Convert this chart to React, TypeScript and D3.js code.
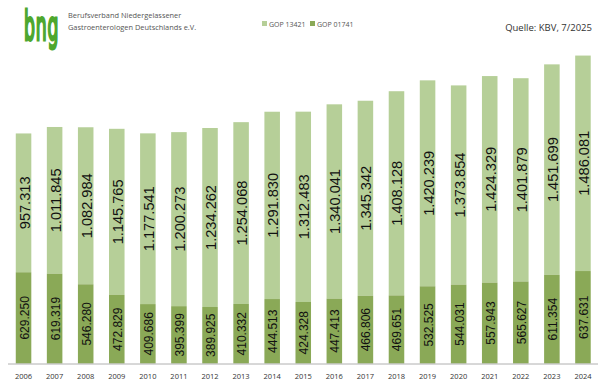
import React from "react";
import * as d3 from "d3";

const years = ["2006","2007","2008","2009","2010","2011","2012","2013","2014","2015","2016","2017","2018","2019","2020","2021","2022","2023","2024"];
const gop01741 = [629250,619319,546280,472829,409686,395399,389925,410332,444513,424328,447413,466806,469651,532525,544031,557943,565627,611354,637631];
const gop13421 = [957313,1011845,1082984,1145765,1177541,1200273,1234262,1254068,1291830,1312483,1340041,1345342,1408128,1420239,1373854,1424329,1401879,1451699,1486081];
const seriesNames = ["GOP 13421", "GOP 01741"];

const W = 605, H = 383;
const LIGHT = "#b6cf98";
const DARK = "#8aa957";
const fmt = (v: number) => d3.format(",")(v).replace(/,/g, ".");

export default function App() {
  const x = d3.scaleBand<string>().domain(years).range([8, 598.5]).paddingInner(0.5).paddingOuter(0.25);
  const y = d3.scaleLinear().domain([0, 2200000]).range([363.5, 44.5]);
  const bw = x.bandwidth();
  return (
    <svg width={W} height={H} style={{ position: "absolute", left: 0, top: 0, background: "#fff" }}>
      {/* logo */}
      <g transform="translate(24,40) scale(0.42,1)">
        <text x={0} y={0} fontFamily="'DejaVu Sans', sans-serif" fontWeight={400} fontSize={41} fill="#4ea72e" stroke="#4ea72e" strokeWidth={3} letterSpacing={2}>bng</text>
      </g>
      <text x={68} y={18} fontFamily="'Open Sans', sans-serif" fontSize={7.4} fill="#555">Berufsverband Niedergelassener</text>
      <text x={68} y={30} fontFamily="'Open Sans', sans-serif" fontSize={7.4} fill="#555">Gastroenterologen Deutschlands e.V.</text>
      {/* legend */}
      <rect x={262} y={21} width={5} height={5} fill={LIGHT} />
      <text x={269} y={26.5} fontFamily="'Open Sans', sans-serif" fontSize={7} fill="#555">{seriesNames[0]}</text>
      <rect x={310} y={21} width={5} height={5} fill={DARK} />
      <text x={317} y={26.5} fontFamily="'Open Sans', sans-serif" fontSize={7} fill="#555">{seriesNames[1]}</text>
      <text x={592} y={31} textAnchor="end" fontFamily="'Open Sans', sans-serif" fontSize={9.5} fill="#333">Quelle: KBV, 7/2025</text>
      {/* bars */}
      {years.map((yr, i) => {
        const bx = x(yr)!;
        const d0 = y(gop01741[i]);
        const t = gop01741[i] + gop13421[i];
        const d1 = y(t);
        const cx = bx + bw / 2 + 1;
        const cDark = (y(0) + d0) / 2;
        const cLight = (d0 + d1) / 2;
        return (
          <g key={yr}>
            <rect x={bx} y={d1} width={bw} height={d0 - d1} fill={LIGHT} />
            <rect x={bx} y={d0} width={bw} height={y(0) - d0} fill={DARK} />
            <text transform={`translate(${cx},${cLight}) rotate(-90)`} textAnchor="middle" dominantBaseline="central" fontFamily="'Liberation Sans', Arial, sans-serif" fontSize={14.6} fill="#111">{fmt(gop13421[i])}</text>
            <text transform={`translate(${cx},${cDark}) rotate(-90)`} textAnchor="middle" dominantBaseline="central" fontFamily="'Liberation Sans', Arial, sans-serif" fontSize={12} fill="#111">{fmt(gop01741[i])}</text>
            <text x={bx + bw / 2} y={379} textAnchor="middle" fontFamily="'Open Sans', sans-serif" fontSize={7.5} fill="#333">{yr}</text>
          </g>
        );
      })}
      <line x1={8} x2={598} y1={364} y2={364} stroke="#b0b0b0" strokeWidth={1} />
    </svg>
  );
}
